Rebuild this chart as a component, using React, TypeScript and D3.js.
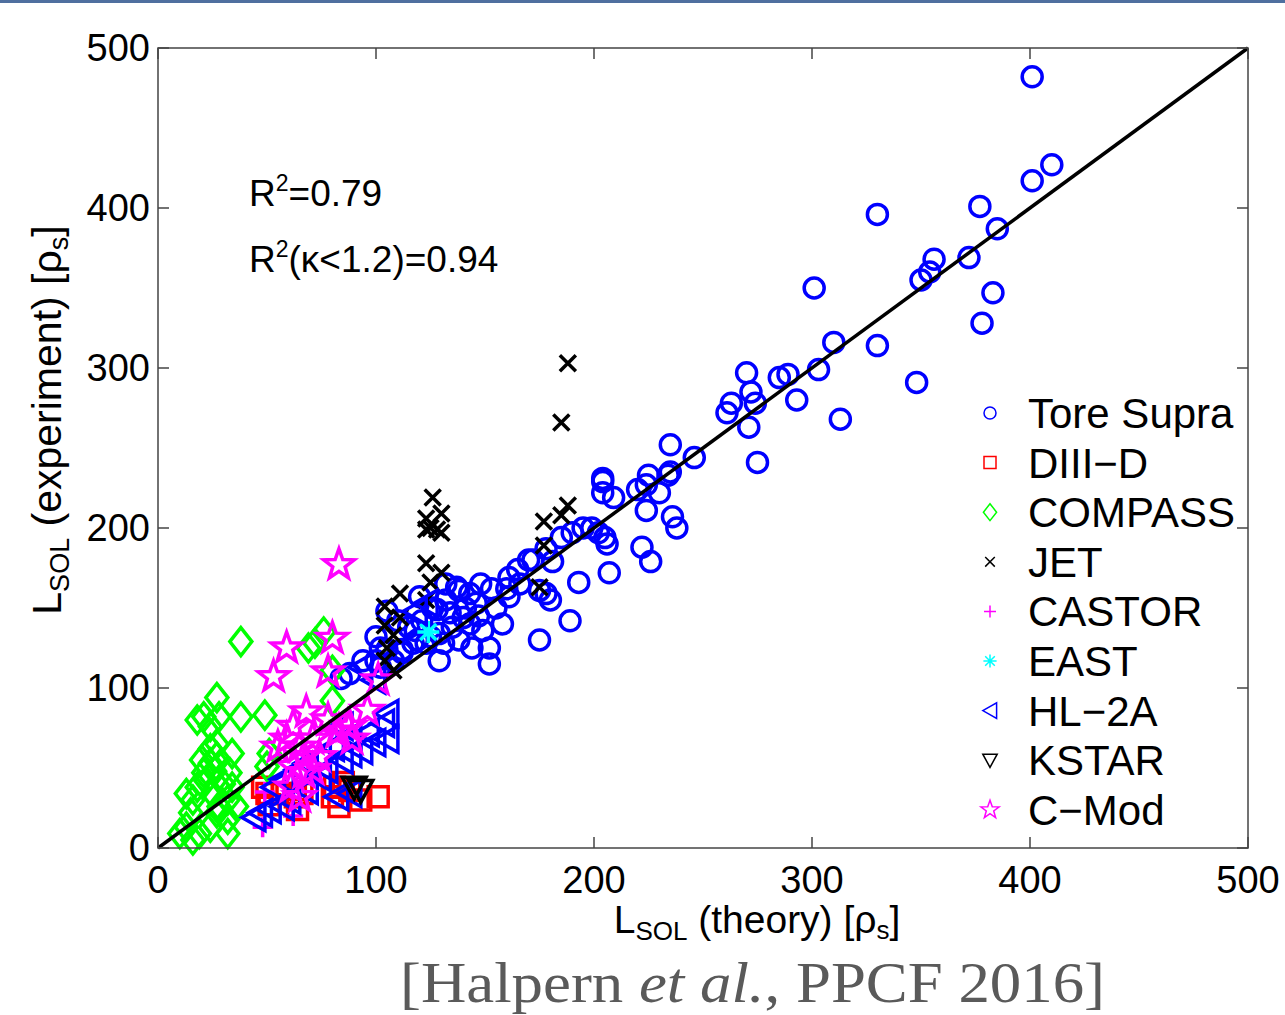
import React from "react";
import * as d3 from "d3";

// data: [L_SOL theory, L_SOL experiment]
const toreSupra: [number, number][] = [
  [401, 482], [410, 427], [401, 417], [330, 396], [377, 401], [385, 387], [372, 369], [356, 368],
  [354, 360], [350, 355], [383, 347], [378, 328], [330, 314], [348, 291], [301, 350], [310, 316],
  [303, 299], [270, 297], [285, 294], [289, 296], [272, 285], [274, 278], [263, 278], [261, 272],
  [293, 280], [271, 263], [313, 268], [275, 241], [235, 252], [246, 244], [235, 235], [225, 233],
  [204, 231], [204, 229], [204, 222], [209, 219], [220, 224], [224, 227], [230, 222], [234, 233],
  [224, 211], [236, 207], [238, 200], [222, 188], [226, 179], [207, 172], [193, 166], [189, 142],
  [175, 130], [199, 200], [205, 194], [206, 190], [202, 197], [195, 200], [190, 197], [185, 194],
  [181, 179], [178, 159], [180, 155], [175, 161], [178, 187], [170, 180], [165, 174], [161, 169],
  [153, 162], [155, 150], [148, 165], [143, 159], [137, 163], [132, 155], [128, 149], [121, 142],
  [125, 132], [117, 128], [112, 124], [105, 124], [100, 117], [129, 117], [152, 115], [140, 144],
  [143, 140], [149, 136], [158, 140], [152, 125], [138, 130], [132, 165], [146, 153], [144, 125],
  [129, 134], [123, 128], [119, 130], [112, 122], [108, 117], [102, 125], [102, 113], [110, 142],
  [115, 138], [120, 157], [126, 150], [138, 161], [134, 147], [161, 157], [172, 180], [160, 162],
  [166, 165], [88, 109], [94, 117], [100, 132], [105, 148], [84, 106], [135, 138], [141, 150],
  [118, 136], [131, 128], [147, 145],
];
const diiid: [number, number][] = [
  [48, 38], [50, 34], [51, 27], [63, 32], [66, 34], [64, 24], [81, 38], [85, 41], [80, 32],
  [83, 26], [88, 36], [93, 30], [101, 32], [57, 34],
];
const compass: [number, number][] = [
  [38, 129], [69, 125], [72, 128], [76, 135], [80, 111], [80, 92], [27, 94], [18, 80], [21, 82],
  [28, 82], [38, 82], [49, 83], [24, 76], [34, 59], [24, 62], [27, 65], [51, 59], [50, 51],
  [10, 9], [13, 13], [15, 22], [16, 30], [13, 34], [18, 38], [21, 47], [24, 53], [27, 57],
  [20, 55], [22, 42], [25, 34], [28, 26], [32, 18], [19, 9], [16, 5], [32, 30], [34, 38],
  [33, 47], [36, 26], [27, 22], [24, 13], [32, 9], [30, 40], [26, 48],
];
const jet: [number, number][] = [
  [188, 303], [185, 266], [188, 214], [185, 208], [177, 204], [177, 189], [175, 163], [126, 219],
  [130, 209], [123, 206], [125, 200], [128, 199], [123, 199], [130, 197], [123, 178], [130, 172],
  [125, 166], [111, 159], [104, 151], [111, 144], [104, 139], [108, 133], [105, 125], [104, 117],
  [123, 155], [108, 111],
];
const castor: [number, number][] = [[48, 13], [49, 35], [62, 20]];
const east: [number, number][] = [[124, 135]];
const hl2a: [number, number][] = [
  [47, 22], [51, 24], [57, 26], [60, 30], [82, 32], [88, 34], [68, 36], [74, 44], [77, 49],
  [84, 55], [88, 59], [93, 61], [99, 66], [105, 68], [103, 78], [105, 84], [96, 72], [88, 70],
  [80, 63], [74, 57], [68, 53], [64, 49], [57, 43], [53, 38], [84, 76], [99, 105], [93, 113],
  [123, 153], [118, 148], [44, 19],
];
const kstar: [number, number][] = [[93, 36], [90, 38]];
const cmod: [number, number][] = [
  [59, 125], [80, 131], [53, 107], [78, 110], [68, 85], [62, 76], [59, 68], [55, 63], [65, 63],
  [71, 68], [67, 57], [62, 51], [67, 47], [61, 38], [65, 32], [74, 57], [82, 72], [87, 76],
  [89, 68], [78, 80], [83, 177], [101, 105], [96, 86], [88, 76], [71, 49], [83, 73],
];

const seriesNames = ["Tore Supra", "DIII\u2212D", "COMPASS", "JET", "CASTOR", "EAST", "HL\u22122A", "KSTAR", "C\u2212Mod"];
const seriesData = [toreSupra, diiid, compass, jet, castor, east, hl2a, kstar, cmod];
const seriesColors = ["#0000ff", "#ff0000", "#00ff00", "#000000", "#ff00ff", "#00ffff", "#0000ff", "#000000", "#ff00ff"];
const seriesMarkers = ["circle", "square", "diamond", "x", "plus", "asterisk", "triLeft", "triDown", "star"];
const ticks = [0, 100, 200, 300, 400, 500];

function markerPath(kind: string, s: number) {
  switch (kind) {
    case "circle":
      return `M${10 * s},0A${10 * s},${10 * s} 0 1,1 ${-10 * s},0A${10 * s},${10 * s} 0 1,1 ${10 * s},0Z`;
    case "square":
      return `M${-10 * s},${-10 * s}H${10 * s}V${10 * s}H${-10 * s}Z`;
    case "diamond":
      return `M0,${-14 * s}L${11 * s},0L0,${14 * s}L${-11 * s},0Z`;
    case "x":
      return `M${-8 * s},${-8 * s}L${8 * s},${8 * s}M${-8 * s},${8 * s}L${8 * s},${-8 * s}`;
    case "plus":
      return `M${-10 * s},0H${10 * s}M0,${-10 * s}V${10 * s}`;
    case "asterisk":
      return `M${-11 * s},0H${11 * s}M0,${-11 * s}V${11 * s}M${-8 * s},${-8 * s}L${8 * s},${8 * s}M${-8 * s},${8 * s}L${8 * s},${-8 * s}`;
    case "triLeft":
      return `M${-12 * s},0L${11 * s},${-13 * s}L${11 * s},${13 * s}Z`;
    case "triDown":
      return `M${-12 * s},${-10 * s}L${12 * s},${-10 * s}L0,${12 * s}Z`;
    case "star": {
      const pts: string[] = [];
      for (let i = 0; i < 10; i++) {
        const r = (i % 2 === 0 ? 16 : 6.5) * s;
        const a = -Math.PI / 2 + (i * Math.PI) / 5;
        pts.push(`${(r * Math.cos(a)).toFixed(2)},${(r * Math.sin(a)).toFixed(2)}`);
      }
      return "M" + pts.join("L") + "Z";
    }
  }
  return "";
}

export default function App() {
  const left = 158, right = 1248, top = 48, bottom = 848;
  const x = d3.scaleLinear().domain([0, 500]).range([left, right]);
  const y = d3.scaleLinear().domain([0, 500]).range([bottom, top]);
  const axisColor = "#444";
  const font = "'Liberation Sans', Arial, sans-serif";

  return (
    <svg width={1285} height={1015} style={{ position: "absolute", left: 0, top: 0, background: "#fff" }}>
      <rect x={0} y={0} width={1285} height={3} fill="#4f6f9f" />

      {/* markers */}
      {seriesData.map((data, si) => (
        <g key={si} stroke={seriesColors[si]} fill="none" strokeWidth={3.5}>
          {data.map((d, i) => (
            <path key={i} d={markerPath(seriesMarkers[si], 1)} transform={`translate(${x(d[0])},${y(d[1])})`} />
          ))}
        </g>
      ))}

      {/* y = x */}
      <line x1={x(0)} y1={y(0)} x2={x(500)} y2={y(500)} stroke="#000" strokeWidth={3.5} />

      {/* frame and ticks */}
      <rect x={left} y={top} width={right - left} height={bottom - top} fill="none" stroke={axisColor} strokeWidth={1.5} />
      {ticks.map((t) => (
        <g key={t} stroke={axisColor} strokeWidth={1.5}>
          <line x1={x(t)} x2={x(t)} y1={bottom} y2={bottom - 11} />
          <line x1={x(t)} x2={x(t)} y1={top} y2={top + 11} />
          <line y1={y(t)} y2={y(t)} x1={left} x2={left + 11} />
          <line y1={y(t)} y2={y(t)} x1={right} x2={right - 11} />
        </g>
      ))}
      {ticks.map((t) => (
        <text key={"yl" + t} x={left - 8} y={y(t) + 13} textAnchor="end" fontFamily={font} fontSize={38} fill="#000">
          {t}
        </text>
      ))}
      {ticks.map((t) => (
        <text key={"xl" + t} x={x(t)} y={893} textAnchor="middle" fontFamily={font} fontSize={38} fill="#000">
          {t}
        </text>
      ))}

      {/* axis titles */}
      <text x={757} y={933} textAnchor="middle" fontFamily={font} fontSize={39} fill="#000">
        <tspan>L</tspan>
        <tspan fontSize={26} dy={7}>SOL</tspan>
        <tspan dy={-7}> (theory) [ρ</tspan>
        <tspan fontSize={26} dy={6}>s</tspan>
        <tspan dy={-6}>]</tspan>
      </text>
      <text transform="translate(61,420) rotate(-90)" textAnchor="middle" fontFamily={font} fontSize={41} fill="#000">
        <tspan>L</tspan>
        <tspan fontSize={27} dy={8}>SOL</tspan>
        <tspan dy={-8}> (experiment) [ρ</tspan>
        <tspan fontSize={27} dy={7}>s</tspan>
        <tspan dy={-7}>]</tspan>
      </text>

      {/* R^2 annotations */}
      <text x={249} y={206} fontFamily={font} fontSize={37} fill="#000">
        <tspan>R</tspan>
        <tspan fontSize={23} dy={-15}>2</tspan>
        <tspan dy={15}>=0.79</tspan>
      </text>
      <text x={249} y={272} fontFamily={font} fontSize={37} fill="#000">
        <tspan>R</tspan>
        <tspan fontSize={23} dy={-15}>2</tspan>
        <tspan dy={15}>(κ&lt;1.2)=0.94</tspan>
      </text>

      {/* legend */}
      {seriesNames.map((name, i) => {
        const ly = 413 + i * 49.6;
        return (
          <g key={name}>
            <path d={markerPath(seriesMarkers[i], 0.6)} transform={`translate(990,${ly})`} stroke={seriesColors[i]} fill="none" strokeWidth={1.5} />
            <text x={1028} y={ly + 15} fontFamily={font} fontSize={42} fill="#000">
              {name}
            </text>
          </g>
        );
      })}

      {/* citation */}
      <text x={400} y={1002} fontFamily="'Liberation Serif', 'DejaVu Serif', serif" fontSize={58} fill="#5a5a5a" textLength={705} lengthAdjust="spacingAndGlyphs">
        <tspan>[Halpern </tspan>
        <tspan fontStyle="italic">et al.</tspan>
        <tspan>, PPCF 2016]</tspan>
      </text>
    </svg>
  );
}
